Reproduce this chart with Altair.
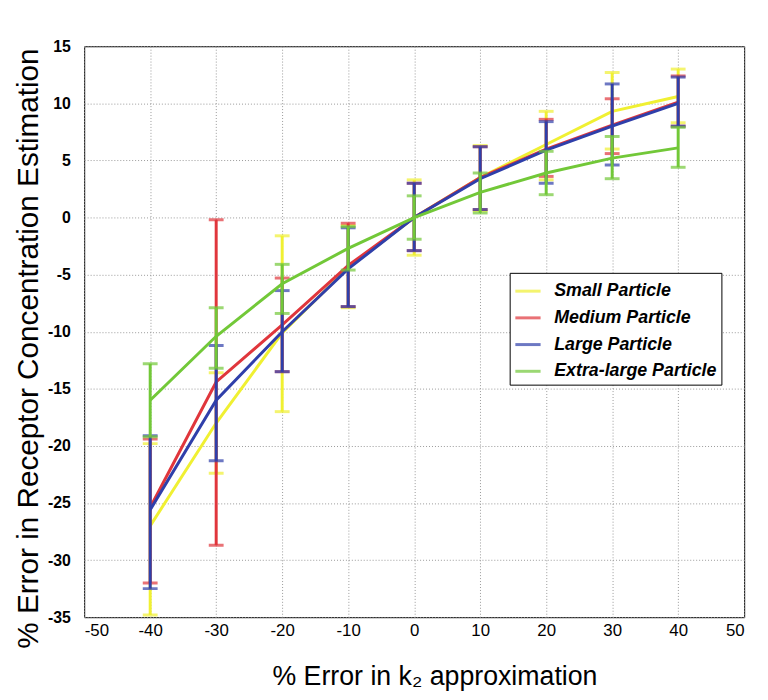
import altair as alt
import pandas as pd

x_vals = [-40, -30, -20, -10, 0, 10, 20, 30, 40]
series = ["Small Particle", "Medium Particle", "Large Particle", "Extra-large Particle"]
colors = ["#F0F032", "#E0363C", "#2F3FAA", "#72C838"]

small_mid = [-27.0, -18.0, -10.1, -4.4, 0.0, 3.5, 6.4, 9.3, 10.6]
small_lo = [-34.8, -22.4, -17.0, -7.9, -3.3, 0.6, 3.3, 6.0, 8.3]
small_hi = [-19.8, -13.6, -1.6, -0.7, 3.3, 6.3, 9.3, 12.7, 13.0]

medium_mid = [-25.4, -14.4, -9.4, -4.2, 0.0, 3.5, 6.0, 8.1, 10.1]
medium_lo = [-32.0, -28.7, -13.5, -7.8, -2.9, 0.7, 3.6, 5.6, 8.0]
medium_hi = [-19.4, -0.2, -5.3, -0.5, 3.0, 6.2, 8.6, 10.4, 12.4]

large_mid = [-25.6, -16.0, -10.0, -4.5, 0.0, 3.4, 5.9, 8.0, 10.0]
large_lo = [-32.5, -21.3, -13.5, -7.8, -2.9, 0.7, 3.0, 4.6, 8.0]
large_hi = [-19.1, -11.2, -6.4, -0.9, 3.0, 6.2, 8.4, 11.7, 12.3]

xl_mid = [-16.0, -10.4, -5.8, -2.7, 0.0, 2.2, 3.9, 5.2, 6.1]
xl_lo = [-19.2, -13.2, -8.4, -4.6, -1.9, 0.4, 2.0, 3.4, 4.4]
xl_hi = [-12.8, -7.9, -4.1, -0.8, 1.9, 3.9, 5.8, 7.1, 7.9]

x_ticks = [-50, -40, -30, -20, -10, 0, 10, 20, 30, 40, 50]
y_ticks = [-35, -30, -25, -20, -15, -10, -5, 0, 5, 10, 15]

all_mid = [small_mid, medium_mid, large_mid, xl_mid]
all_lo = [small_lo, medium_lo, large_lo, xl_lo]
all_hi = [small_hi, medium_hi, large_hi, xl_hi]

color_scale = alt.Scale(domain=series, range=colors)
legend = alt.Legend(
    title=None, orient="none", legendX=430, legendY=229,
    fillColor="white", strokeColor="black", padding=4,
    symbolType="stroke", symbolStrokeWidth=3, symbolSize=650,
    labelFont="Liberation Sans", labelFontSize=18, labelFontWeight="bold",
    labelFontStyle="italic", labelColor="black", rowPadding=3, labelOffset=12,
    labelLimit=0,
)
xs = alt.Scale(domain=[-50, 50], nice=False)
ys = alt.Scale(domain=[-35, 15], nice=False)
x_axis = alt.Axis(values=x_ticks, title="% Error in k\u2082 approximation", titleFontSize=27,
                  labelFontSize=17, labelPadding=6, titleX=354, titleY=60, titleBaseline="middle",
                  labelExpr="toString(datum.value)")
y_axis = alt.Axis(values=y_ticks, title="% Error in Receptor Concentration Estimation",
                  titleFontSize=30, labelFontSize=16, labelFontWeight="bold", labelPadding=14,
                  titleX=-56, titleY=305, titleBaseline="middle", titleAlign="center",
                  labelExpr="toString(datum.value)")

layers = []
for i, name in enumerate(series):
    df = pd.DataFrame({"series": name, "x": x_vals, "mid": all_mid[i],
                       "lo": all_lo[i], "hi": all_hi[i]})
    base = alt.Chart(df)
    col = alt.Color("series:N", scale=color_scale, legend=legend)
    rule = base.mark_rule(strokeWidth=3).encode(
        x=alt.X("x:Q", scale=xs, axis=x_axis), y=alt.Y("lo:Q", scale=ys, axis=y_axis),
        y2="hi:Q", color=col)
    cap_lo = base.mark_tick(orient="horizontal", size=15, thickness=3).encode(
        x=alt.X("x:Q", scale=xs), y=alt.Y("lo:Q", scale=ys), color=col)
    cap_hi = base.mark_tick(orient="horizontal", size=15, thickness=3).encode(
        x=alt.X("x:Q", scale=xs), y=alt.Y("hi:Q", scale=ys), color=col)
    line = base.mark_line(strokeWidth=3).encode(
        x=alt.X("x:Q", scale=xs), y=alt.Y("mid:Q", scale=ys), color=col)
    layers += [rule, cap_lo, cap_hi, line]

chart = alt.layer(*layers).properties(
    width=667, height=577,
    autosize=alt.AutoSizeParams(type="none"),
    padding={"left": 77, "top": 35, "right": 16, "bottom": 76},
    background="white",
).configure_view(stroke="black", strokeWidth=1).configure_axis(
    grid=True, gridDash=[1, 2], gridColor="#999999", gridWidth=1,
    domain=False, ticks=False, labelFont="Liberation Sans", labelColor="black",
    titleFont="Liberation Sans", titleFontWeight="normal", titleColor="black",
)

chart.save("out.html", embed_options={"renderer": "svg", "actions": False})
